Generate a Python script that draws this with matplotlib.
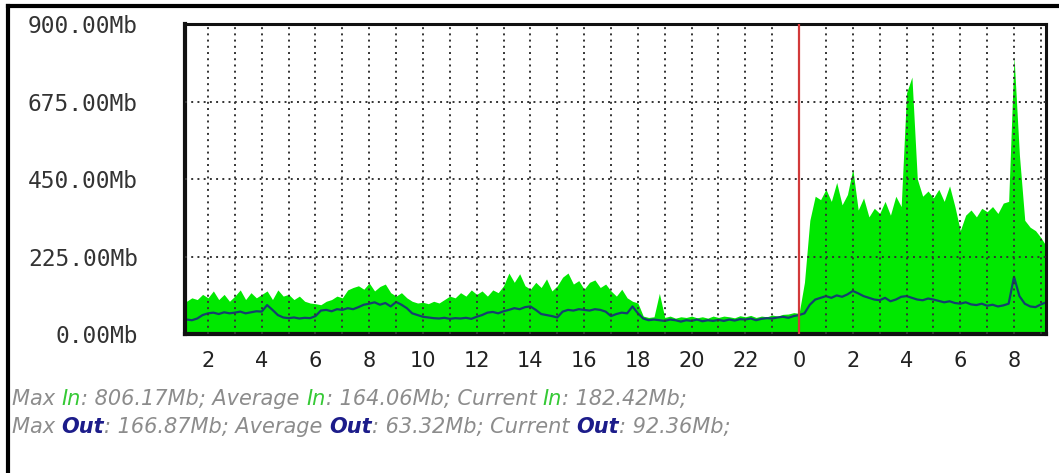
import numpy as np
import matplotlib
matplotlib.use("Agg")
import matplotlib.pyplot as plt
from matplotlib.lines import Line2D

# traffic samples, one every 12 minutes, starting at 01:00 (hours past midnight of day 1)
start_hour = 1.0
step_hour = 0.2

traffic_in = [
    90, 95, 105, 100, 115,          # 1
    105, 125, 100, 115, 95,         # 2
    110, 128, 100, 120, 105,        # 3
    115, 125, 100, 128, 110,        # 4
    115, 100, 110, 95, 90,          # 5
    88, 85, 95, 100, 110,           # 6
    105, 128, 135, 140, 130,        # 7
    148, 125, 138, 145, 120,        # 8
    110, 120, 105, 95, 90,          # 9
    92, 88, 95, 90, 100,            # 10
    110, 105, 120, 110, 128,        # 11
    115, 125, 110, 128, 120,        # 12
    140, 177, 150, 175, 140,        # 13
    130, 150, 135, 160, 125,        # 14
    140, 165, 177, 145, 155,        # 15
    130, 150, 157, 135, 145,        # 16
    125, 110, 130, 105, 95,         # 17
    90, 52, 48, 50, 118,            # 18
    48, 52, 46, 50, 48,             # 19
    52, 47, 50, 46, 52,             # 20
    48, 52, 50, 47, 53,             # 21
    50, 54, 48, 52, 50,             # 22
    55, 52, 57, 58, 62,             # 23
    60, 150, 330, 400, 390,         # 0
    420, 385, 440, 375, 405,        # 1
    479, 360, 395, 340, 365,        # 2
    350, 385, 345, 400, 370,        # 3
    700, 746, 450, 400, 415,        # 4
    395, 420, 385, 430, 370,        # 5
    300, 345, 360, 340, 365,        # 6
    355, 370, 350, 380, 385,        # 7
    806, 520, 330, 310, 300,        # 8
    280, 255,                       # 9
]

traffic_out = [
    40, 42, 40, 45, 55,
    60, 62, 58, 63, 60,
    62, 65, 60, 63, 66,
    65, 84, 70, 55, 48,
    46, 48, 45, 47, 46,
    52, 68, 70, 66, 72,
    70, 75, 72, 78, 85,
    88, 92, 85, 90, 80,
    93, 85, 75, 60, 55,
    50, 48, 46, 45, 47,
    44, 46, 45, 47, 44,
    50, 55, 62, 64, 60,
    66, 70, 75, 72, 78,
    80, 70, 58, 55, 52,
    48, 65, 70, 68, 72,
    70, 68, 72, 70, 65,
    52, 58, 62, 60, 80,
    60, 45, 40, 42, 40,
    38, 42, 40, 36, 40,
    38, 42, 37, 40, 38,
    41, 38, 42, 39, 43,
    42, 45, 40, 44, 46,
    45, 48, 50, 47, 52,
    55, 60, 85, 100, 105,
    110, 105, 112, 108, 115,
    125, 118, 110, 105, 100,
    98, 105, 95, 100, 108,
    110, 105, 100, 98, 103,
    100, 96, 92, 95, 90,
    88, 92, 86, 84, 88,
    82, 85, 80, 83, 88,
    166, 110, 88, 80, 78,
    86, 92,
]

y_ticks = [0, 225, 450, 675, 900]
y_labels = ["0.00Mb", "225.00Mb", "450.00Mb", "675.00Mb", "900.00Mb"]
x_ticks = list(range(2, 33, 2))
x_labels = ["2", "4", "6", "8", "10", "12", "14", "16", "18", "20", "22",
            "0", "2", "4", "6", "8"]
midnight = 24

stats_in = ("806.17Mb", "164.06Mb", "182.42Mb")
stats_out = ("166.87Mb", "63.32Mb", "92.36Mb")

assert len(traffic_in) == len(traffic_out)
hours = start_hour + step_hour * np.arange(len(traffic_in))

W, H = 1059, 473
fig = plt.figure(figsize=(W / 100, H / 100), dpi=100)
ax = fig.add_axes([185 / W, 1 - 334 / H, (1046 - 185) / W, (334 - 24) / H])

ax.fill_between(hours, 0, traffic_in, color="#00e800", lw=0, zorder=1)
ax.plot(hours, traffic_out, color="#14406e", lw=1.6, zorder=2)

# dotted grid drawn over the data
dot = (0, (1, 2.2))
for h in range(2, 34):
    if h == midnight:
        continue
    ax.axvline(h, color="#333333", lw=1.4, ls=dot, zorder=3)
for v in y_ticks[1:-1]:
    ax.axhline(v, color="#333333", lw=1.4, ls=dot, zorder=3)
ax.axvline(midnight, color="#d23a3a", lw=1.6, zorder=4)

ax.set_xlim(1.144, 33.19)
ax.set_ylim(0, 900)
ax.set_xticks(x_ticks)
ax.set_xticklabels(x_labels, fontsize=15, color="#222222")
ax.set_yticks(y_ticks)
ax.set_yticklabels(y_labels, fontsize=16.5, family="DejaVu Sans Mono", color="#333333")
ax.tick_params(length=0)
ax.tick_params(axis="y", pad=34)
ax.tick_params(axis="x", pad=12)
for side in ax.spines:
    ax.spines[side].set_color("#111111")
    ax.spines[side].set_linewidth(2.2)
ax.spines["left"].set_linewidth(3)
ax.spines["bottom"].set_linewidth(3)

# outer frame (top and left edges)
fig.add_artist(Line2D([8 / W, 1], [1 - 6 / H, 1 - 6 / H], color="black", lw=3))
fig.add_artist(Line2D([8 / W, 8 / W], [0, 1 - 6 / H], color="black", lw=3))

gray = "#8c8c8c"
green = "#35c935"
navy = "#1c1c8a"


def stat_line(y, word, word_color, word_weight, values):
    parts = [("Max ", gray, "normal"), (word, word_color, word_weight),
             (": " + values[0] + "; Average ", gray, "normal"), (word, word_color, word_weight),
             (": " + values[1] + "; Current ", gray, "normal"), (word, word_color, word_weight),
             (": " + values[2] + ";", gray, "normal")]
    t = fig.text(12 / W, y, parts[0][0], color=parts[0][1], fontsize=15,
                 style="italic", va="bottom", ha="left")
    for s, c, w in parts[1:]:
        t = ax.annotate(s, xy=(1, 0), xycoords=t, va="bottom", ha="left",
                        color=c, fontsize=15, style="italic", weight=w,
                        annotation_clip=False)


stat_line(1 - 409 / H, "In", green, "normal", stats_in)
stat_line(1 - 437 / H, "Out", navy, "bold", stats_out)

fig.savefig("out.png", dpi=100, facecolor="white")
